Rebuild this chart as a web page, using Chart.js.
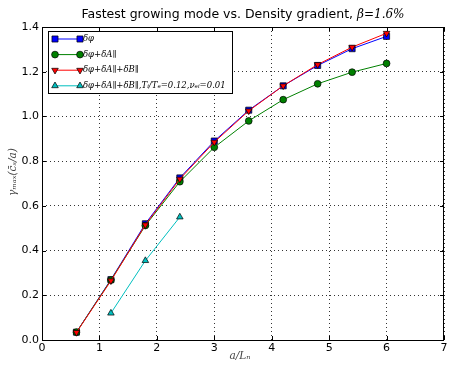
<!DOCTYPE html>
<html>
<head>
<meta charset="utf-8">
<script src="https://cdn.jsdelivr.net/npm/chart.js@4.4.1/dist/chart.umd.min.js"></script>
<style>
  html, body { margin: 0; padding: 0; background: #fff; }
  #wrap { width: 449px; height: 366px; position: relative; }
</style>
</head>
<body>
<div id="wrap"><canvas id="chart"></canvas></div>
<script>
const xValues = [0.6, 1.2, 1.8, 2.4, 3.0, 3.6, 4.2, 4.8, 5.4, 6.0];
const phiOnly = [0.035, 0.27, 0.52, 0.725, 0.89, 1.028, 1.137, 1.228, 1.303, 1.358];
const phiApar = [0.035, 0.268, 0.512, 0.708, 0.862, 0.98, 1.075, 1.146, 1.198, 1.237];
const phiAparBpar = [0.034, 0.265, 0.515, 0.72, 0.885, 1.025, 1.137, 1.232, 1.31, 1.372];
const cyanX = [1.2, 1.8, 2.4];
const collisional = [0.12, 0.355, 0.55];

const xTicks = [0, 1, 2, 3, 4, 5, 6, 7];
const yTicks = [0.0, 0.2, 0.4, 0.6, 0.8, 1.0, 1.2, 1.4];

const labels = [
  "δφ",
  "δφ+δA∥",
  "δφ+δA∥+δB∥",
  "δφ+δA∥+δB∥,Tᵢ/Tₑ=0.12,νₑᵢ=0.01"
];

const pts = (xs, ys) => xs.map((x, i) => ({ x: x, y: ys[i] }));

function series(label, data, color, style, radius, rotation, order) {
  return {
    label: label,
    data: data,
    borderColor: color,
    backgroundColor: color,
    borderWidth: 1,
    pointStyle: style,
    pointRadius: radius,
    pointRotation: rotation,
    pointBackgroundColor: color,
    pointBorderColor: "#000",
    pointBorderWidth: 0.7,
    tension: 0,
    order: order
  };
}

const datasets = [
  series(labels[0], pts(xValues, phiOnly), "#0000ff", "rect", 4.3, 0, 4),
  series(labels[1], pts(xValues, phiApar), "#008000", "circle", 3.4, 0, 3),
  series(labels[2], pts(xValues, phiAparBpar), "#ff0000", "triangle", 3.8, 180, 2),
  series(labels[3], pts(cyanX, collisional), "#00bfbf", "triangle", 3.8, 0, 1)
];

// title, axis labels, inner ticks, frame and legend box drawn like the original figure
const decor = {
  id: "decor",
  afterDraw(chart) {
    const ctx = chart.ctx;
    const a = chart.chartArea;
    const xs = chart.scales.x, ys = chart.scales.y;
    ctx.save();
    ctx.strokeStyle = "#000";
    ctx.lineWidth = 1;
    ctx.beginPath();
    xTicks.forEach(v => {
      const px = Math.round(xs.getPixelForValue(v)) + 0.5;
      ctx.moveTo(px, a.bottom); ctx.lineTo(px, a.bottom - 4);
      ctx.moveTo(px, a.top); ctx.lineTo(px, a.top + 4);
    });
    yTicks.forEach(v => {
      const py = Math.round(ys.getPixelForValue(v)) + 0.5;
      ctx.moveTo(a.left, py); ctx.lineTo(a.left + 4, py);
      ctx.moveTo(a.right, py); ctx.lineTo(a.right - 4, py);
    });
    ctx.stroke();
    ctx.strokeRect(Math.round(a.left) + 0.5, Math.round(a.top) + 0.5,
      Math.round(a.right - a.left) - 1, Math.round(a.bottom - a.top));

    // title
    const t1 = "Fastest growing mode vs. Density gradient, ";
    const t2 = "β=1.6%";
    ctx.fillStyle = "#000";
    ctx.textBaseline = "alphabetic";
    ctx.font = "12.5px 'DejaVu Sans'";
    const w1 = ctx.measureText(t1).width;
    ctx.font = "italic 12px 'DejaVu Serif'";
    const w2 = ctx.measureText(t2).width;
    let tx = (a.left + a.right) / 2 - (w1 + w2) / 2;
    ctx.font = "12.5px 'DejaVu Sans'";
    ctx.fillText(t1, tx, 18);
    ctx.font = "italic 12px 'DejaVu Serif'";
    ctx.fillText(t2, tx + w1, 18);

    // axis labels
    ctx.fillStyle = "#444";
    ctx.textAlign = "center";
    ctx.textBaseline = "middle";
    ctx.font = "italic 10.5px 'DejaVu Serif'";
    ctx.fillText("a/Lₙ", 240, 356);
    ctx.save();
    ctx.translate(13, 172);
    ctx.rotate(-Math.PI / 2);
    ctx.fillText("γₘₐₓ(c̄ₛ/a)", 0, 0);
    ctx.restore();
    ctx.textAlign = "left";

    // legend
    const lx = 48, ly = 31, lw = 184, lh = 62;
    ctx.fillStyle = "#fff";
    ctx.fillRect(lx, ly, lw, lh);
    ctx.strokeStyle = "#000";
    ctx.lineWidth = 1;
    ctx.strokeRect(lx + 0.5, ly + 0.5, lw, lh);
    let fs = 9.5;
    ctx.font = "italic " + fs + "px 'DejaVu Serif'";
    while (ctx.measureText(labels[3]).width > 146 && fs > 7) {
      fs -= 0.25;
      ctx.font = "italic " + fs + "px 'DejaVu Serif'";
    }
    chart.data.datasets.forEach((ds, i) => {
      const y = 39 + i * 15.6;
      ctx.strokeStyle = ds.borderColor;
      ctx.lineWidth = 1;
      ctx.beginPath();
      ctx.moveTo(55, y); ctx.lineTo(80, y);
      ctx.stroke();
      [55, 80].forEach(px => {
        ctx.fillStyle = ds.pointBackgroundColor;
        ctx.strokeStyle = "#000";
        ctx.lineWidth = ds.pointBorderWidth;
        Chart.helpers.drawPoint(ctx, {
          pointStyle: ds.pointStyle,
          rotation: ds.pointRotation,
          radius: ds.pointRadius,
          borderWidth: ds.pointBorderWidth
        }, px, y);
      });
      ctx.fillStyle = "#000";
      ctx.textBaseline = "middle";
      ctx.fillText(ds.label, 83, y);
    });
    ctx.restore();
  }
};

new Chart(document.getElementById("chart"), {
  type: "line",
  data: { datasets: datasets },
  plugins: [decor],
  options: {
    responsive: true,
    maintainAspectRatio: false,
    animation: false,
    layout: { padding: { top: 27, left: 0, right: 1, bottom: 0 } },
    plugins: {
      legend: { display: false },
      tooltip: { enabled: false }
    },
    scales: {
      x: {
        type: "linear",
        min: 0,
        max: 7,
        afterBuildTicks: s => { s.ticks = xTicks.map(v => ({ value: v })); },
        afterFit: s => { s.height = 26; s.paddingLeft = 0; s.paddingRight = 0; },
        grid: { color: "#000", lineWidth: 0.8, drawTicks: false },
        border: { display: false, dash: [1, 3] },
        ticks: {
          color: "#000",
          font: { family: "DejaVu Sans", size: 11 },
          padding: 2,
          maxRotation: 0,
          callback: v => String(v)
        }
      },
      y: {
        type: "linear",
        min: 0,
        max: 1.4,
        afterBuildTicks: s => { s.ticks = yTicks.map(v => ({ value: v })); },
        afterFit: s => { s.width = 42; s.paddingTop = 0; s.paddingBottom = 0; },
        grid: { color: "#000", lineWidth: 0.8, drawTicks: false },
        border: { display: false, dash: [1, 3] },
        ticks: {
          color: "#000",
          font: { family: "DejaVu Sans", size: 11 },
          padding: 3,
          callback: v => v.toFixed(1)
        }
      }
    }
  }
});
</script>
</body>
</html>
